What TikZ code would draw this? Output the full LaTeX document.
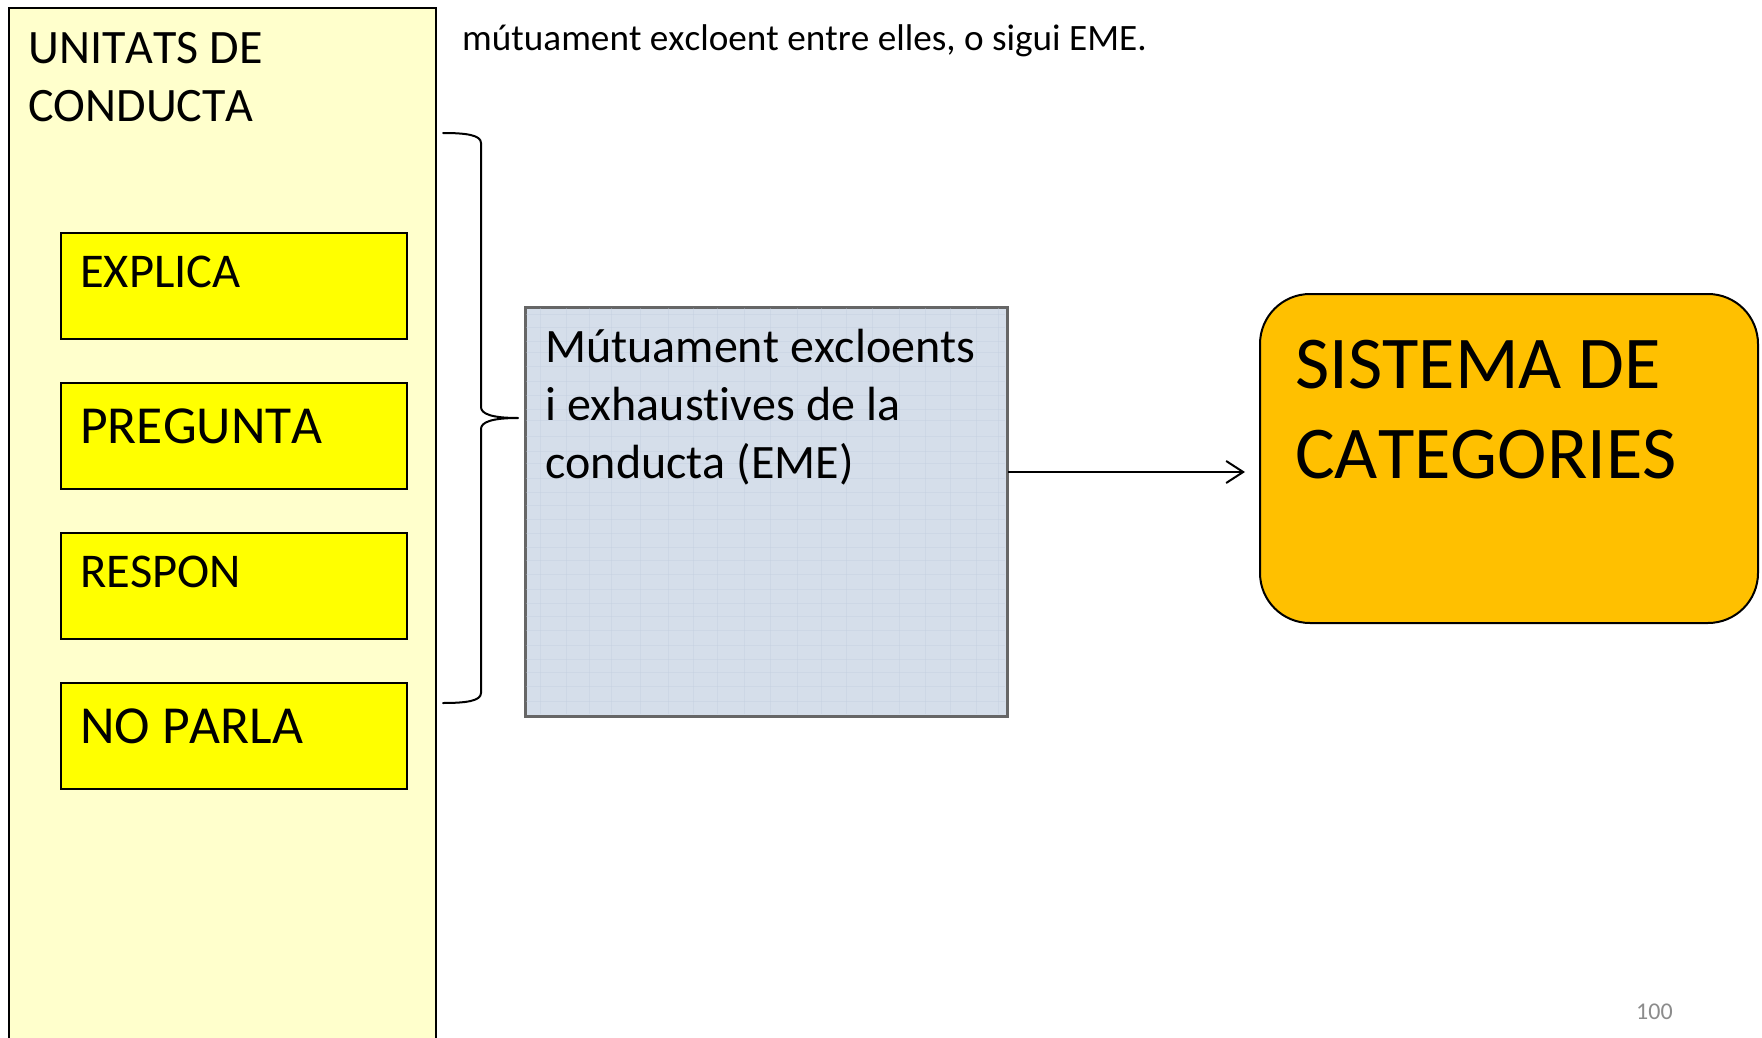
\documentclass[tikz,border=0pt]{standalone}
\usepackage{fontspec}
\setmainfont{Carlito}[Kerning=Off,Ligatures=NoCommon]
\usetikzlibrary{arrows.meta}
\definecolor{paleyellow}{HTML}{FFFFCC}
\definecolor{brightyellow}{HTML}{FFFF00}
\definecolor{tissueblue}{HTML}{D5DEEA}
\definecolor{tissueline}{HTML}{BFCCDD}
\definecolor{amber}{HTML}{FFC000}
\definecolor{pagegray}{HTML}{8C8C8C}
\tikzset{
  outerbox/.style={draw=black, line width=2pt, fill=paleyellow},
  unitbox/.style={draw=black, line width=2pt, fill=brightyellow, minimum width=346pt, minimum height=106pt, inner sep=0pt, anchor=north west},
  emebox/.style={draw=black!60, line width=2pt, fill=tissueblue, minimum width=481pt, minimum height=408pt, inner sep=0pt, anchor=north west},
  catbox/.style={draw=black, line width=2pt, fill=amber, rounded corners=50pt, minimum width=498pt, minimum height=329pt, inner sep=0pt, anchor=north west},
  lbl/.style={inner sep=0pt, anchor=base west, text=black},
  connector/.style={line width=2pt, -{Straight Barb[length=17pt,width=22pt,line width=2pt]}},
  bracepath/.style={line width=2pt, line cap=round, line join=round}
}
\begin{document}
\begin{tikzpicture}[x=1pt,y=-1pt]
\useasboundingbox (0,0) rectangle (1762,1038);
\clip (0,0) rectangle (1762,1038);
\fill[white] (0,0) rectangle (1762,1038);

% outer pale box (extends past bottom edge)
\draw[outerbox] (9,8) rectangle (436,1060);
\node[lbl, font=\fontsize{48}{57}\selectfont] (t1) at (28,64) {UNITATS DE};
\node[lbl, font=\fontsize{48}{57}\selectfont] (t2) at (28,122) {CONDUCTA};

% top text line
\node[lbl, font=\fontsize{37.2}{45}\selectfont] (toptext) at (462,51) {mútuament excloent entre elles, o sigui EME.};

% unit boxes
\node[unitbox] (u1) at (60,232) {};
\node[unitbox] (u2) at (60,382) {};
\node[unitbox] (u3) at (60,532) {};
\node[unitbox] (u4) at (60,682) {};
\node[lbl, font=\fontsize{48.5}{57}\selectfont] (l1) at (80,287) {EXPLICA};
\node[lbl, font=\fontsize{53.5}{64}\selectfont] (l2) at (80,443) {PREGUNTA};
\node[lbl, font=\fontsize{48.5}{57}\selectfont] (l3) at (80,587) {RESPON};
\node[lbl, font=\fontsize{53.5}{64}\selectfont] (l4) at (80,743) {NO PARLA};

% brace
\draw[bracepath] (443,133) .. controls (466,133) and (481,135) .. (481,143)
  -- (481,407) .. controls (481,414) and (492,418) .. (518,418)
  .. controls (492,418) and (481,422) .. (481,429)
  -- (481,693) .. controls (481,701) and (466,703) .. (443,703);

% EME box
\node[emebox] (eme) at (525,307) {};
\begin{scope}
\clip (526,308) rectangle (1005,714);
\foreach \yy in {314,327,341,352,366,381,395,409,420,436,451,463,478,492,505,519,533,547,560,574,589,603,616,630,645,659,672,686,701}
  \draw[tissueline, line width=0.8pt, opacity=0.35] (526,\yy) -- (1005,\yy);
\foreach \xx in {540,566,589,611,640,668,693,717,744,770,797,821,846,872,899,925,950,976,998}
  \draw[tissueline, line width=0.8pt, opacity=0.35] (\xx,308) -- (\xx,714);
\end{scope}
\draw[draw=black!60, line width=2pt] (eme.north west) rectangle (eme.south east);
\node[lbl, font=\fontsize{48}{57}\selectfont] (e1) at (545,362) {Mútuament excloents};
\node[lbl, font=\fontsize{48}{57}\selectfont] (e2) at (545,420) {i exhaustives de la};
\node[lbl, font=\fontsize{48}{57}\selectfont] (e3) at (545,478) {conducta (EME)};

% category box
\node[catbox] (cat) at (1259,293) {};
\node[lbl, font=\fontsize{74.5}{90}\selectfont] (c1) at (1295,388) {SISTEMA DE};
\node[lbl, font=\fontsize{74.5}{90}\selectfont] (c2) at (1295,478) {CATEGORIES};

% arrow
\coordinate (arrowend) at (1245,472);
\draw[connector] (eme.east |- arrowend) -- (arrowend);

% page number
\node[lbl, font=\fontsize{24}{29}\selectfont, text=pagegray] (pg) at (1636,1019) {100};
\end{tikzpicture}
\end{document}
